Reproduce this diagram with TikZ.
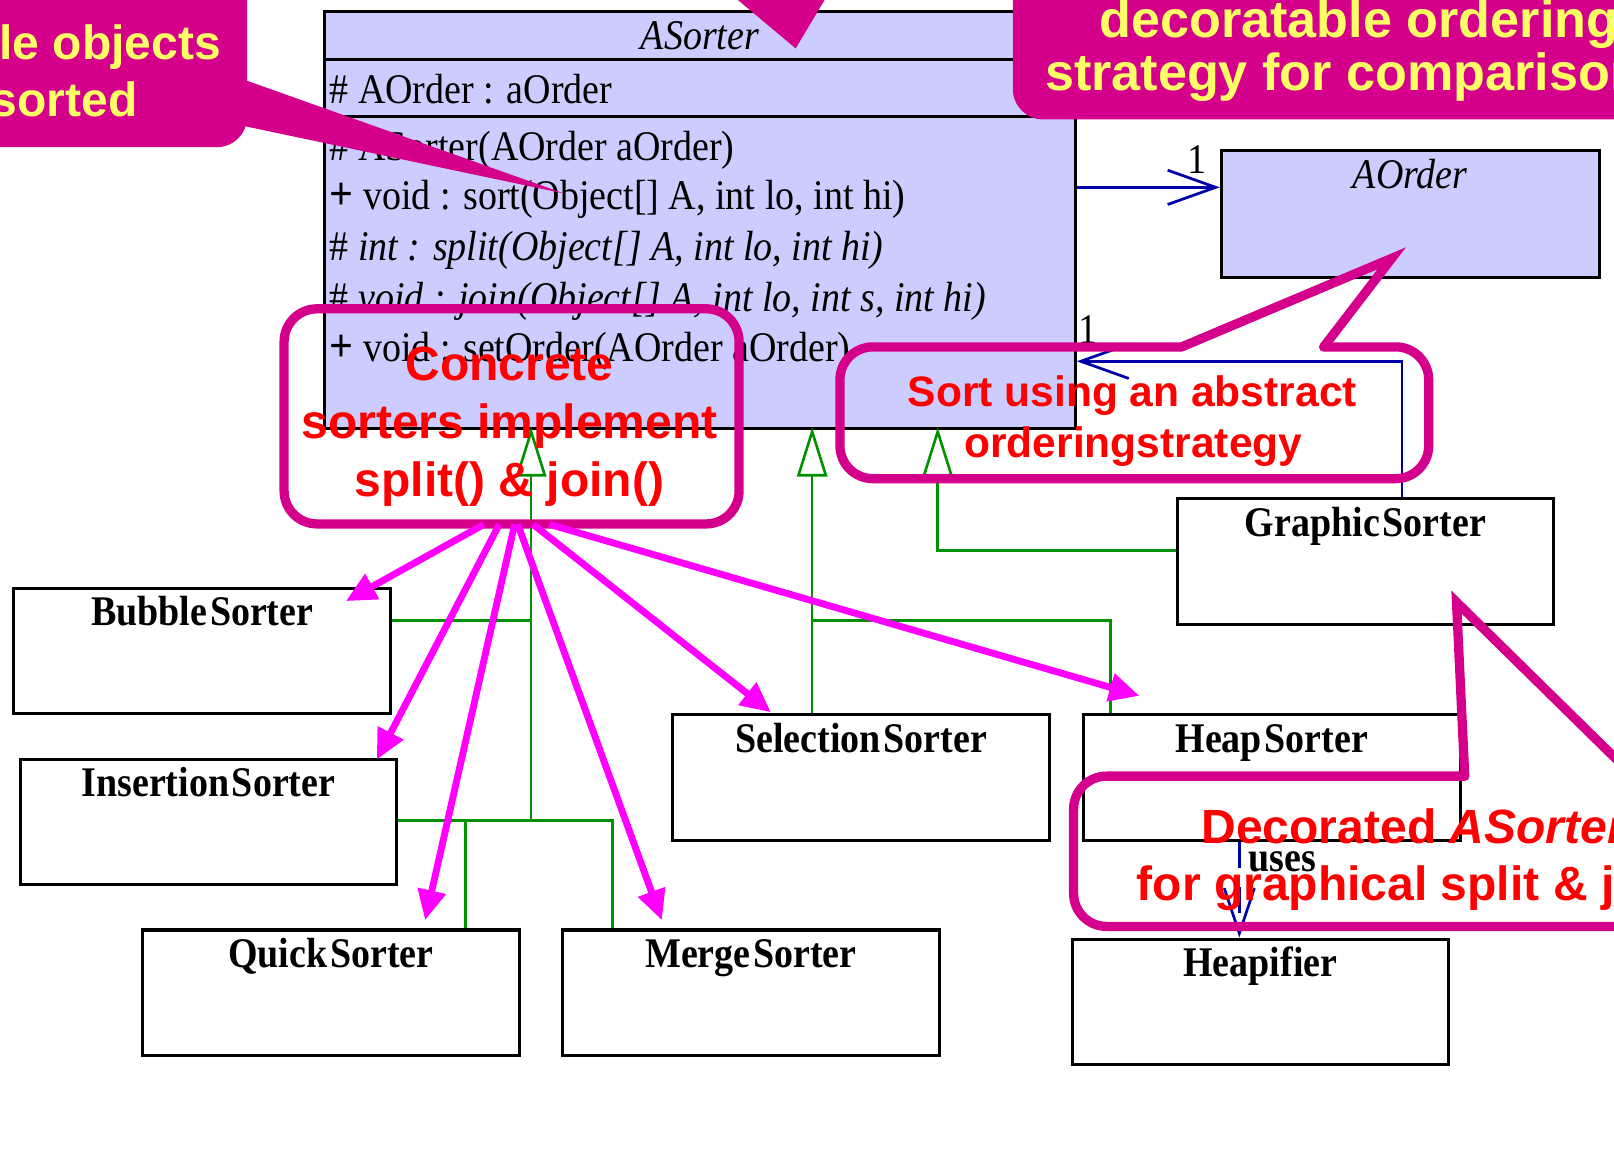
\documentclass[tikz,border=0pt]{standalone}
\usepackage{fontspec}
\setmainfont{Liberation Serif}
\newfontfamily\umlfont[FakeStretch=0.9]{Liberation Serif}
\newfontfamily\notefont{Liberation Sans}
\usetikzlibrary{arrows.meta}

\definecolor{lav}{HTML}{CCCCFF}
\definecolor{umlgreen}{HTML}{009000}
\definecolor{umlblue}{HTML}{0000A8}
\definecolor{notemag}{HTML}{D4008C}
\definecolor{arrowmag}{HTML}{FF00FF}
\definecolor{noteyellow}{HTML}{FFFF66}
\definecolor{notered}{HTML}{FF0000}

% one drawing unit = one pixel
\def\pxu{0.75pt}
\newcommand\umlsz{\fontsize{30.75pt}{36pt}\selectfont}
\newcommand\vis{{\fontsize{34pt}{36pt}\selectfont\bfseries +}}

\begin{document}
\begin{tikzpicture}[x=0.75pt, y=-0.75pt,
  cls/.style={draw, line width=2.25pt, fill=white, inner sep=0pt,
    minimum width=366*\pxu, minimum height=122*\pxu, anchor=north west},
  ctitle/.style={font=\umlfont\bfseries\umlsz, anchor=base, inner sep=0pt},
  member/.style={font=\umlfont\umlsz, anchor=base west, inner sep=0pt},
  gen/.style={draw=umlgreen, line width=1.9pt},
  genarrow/.style={gen, -{Triangle[open, length=36pt, width=22pt]}},
  assoc/.style={draw=umlblue, line width=2pt, -{Straight Barb[length=35pt, width=25pt]}},
  dep/.style={draw=umlblue, line width=2pt, dash pattern=on 19pt off 14pt,
    -{Straight Barb[length=33pt, width=22pt]}},
  outlinenote/.style={draw=notemag, line width=6.75pt, line cap=round},
  marrow/.style={draw=arrowmag, line width=5pt, -{Triangle[length=22pt, width=20pt]}},
  redtxt/.style={text=notered, font=\notefont\bfseries\fontsize{35pt}{42pt}\selectfont,
    inner sep=0pt, anchor=base},
  smallred/.style={redtxt, font=\notefont\bfseries\fontsize{31pt}{37pt}\selectfont},
  yeltxt/.style={text=noteyellow, font=\notefont\bfseries\fontsize{35pt}{42pt}\selectfont,
    inner sep=0pt},
  bigyel/.style={yeltxt, font=\notefont\bfseries\fontsize{38pt}{46pt}\selectfont}
]
\fill[white] (0,0) rectangle (1568,1134);
\clip (0,0) rectangle (1568,1134);

% ---------------- abstract sorter class ----------------
\node[draw, line width=2.25pt, fill=lav, inner sep=0pt, minimum width=729*\pxu,
  minimum height=405*\pxu, anchor=north west] (asorter) at (314,10) {};
\draw[line width=2.25pt] ([yshift=-48*\pxu]asorter.north west) -- ([yshift=-48*\pxu]asorter.north east);
\draw[line width=2.25pt] ([yshift=-103*\pxu]asorter.north west) -- ([yshift=-103*\pxu]asorter.north east);
\node[ctitle, font=\umlfont\itshape\umlsz] (asorterT) at ([yshift=-38*\pxu]asorter.north) {ASorter};
\node[member] (attr) at (320,101) {\# AOrder : aOrder};
\node[member] (ctor) at (320,156) {\# ASorter(AOrder aOrder)};
\node[member] (msort) at (320,204) {\vis\ void : sort(Object[] A, int lo, int hi)};
\node[member, font=\umlfont\itshape\umlsz] (msplit) at (320,253) {\textup{\#} int : split(Object[] A, int lo, int hi)};
\node[member, font=\umlfont\itshape\umlsz] (mjoin) at (320,303) {\textup{\#} void : join(Object[] A, int lo, int s, int hi)};
\node[member] (mset) at (320,351) {\vis\ void : setOrder(AOrder aOrder)};

% ---------------- ordering strategy ----------------
\node[cls, fill=lav, minimum width=367*\pxu, minimum height=123*\pxu] (aorder) at (1185,145) {};
\node[ctitle, font=\umlfont\itshape\umlsz] (aorderT) at ([yshift=-38*\pxu]aorder.north) {AOrder};

% ---------------- concrete classes ----------------
\node[cls] (bubble) at (12,570) {};
\node[cls] (insertion) at (18,736) {};
\node[cls] (quick) at (137,902) {};
\node[cls] (merge) at (545,902) {};
\node[cls] (selection) at (652,693) {};
\node[cls] (heap) at (1051,693) {};
\node[cls] (heapifier) at (1040,911) {};
\node[cls] (graphic) at (1142,483) {};
\node[ctitle] (bubbleT) at ([yshift=-38*\pxu]bubble.north) {Bubble\kern2pt Sorter};
\node[ctitle] (insertionT) at ([yshift=-38*\pxu]insertion.north) {Insertion\kern2pt Sorter};
\node[ctitle] (quickT) at ([yshift=-38*\pxu]quick.north) {Quick\kern2pt Sorter};
\node[ctitle] (mergeT) at ([yshift=-38*\pxu]merge.north) {Merge\kern2pt Sorter};
\node[ctitle] (selectionT) at ([yshift=-38*\pxu]selection.north) {Selection\kern2pt Sorter};
\node[ctitle] (heapT) at ([yshift=-38*\pxu]heap.north) {Heap\kern2pt Sorter};
\node[ctitle] (heapifierT) at ([yshift=-38*\pxu]heapifier.north) {Heapifier};
\node[ctitle] (graphicT) at ([yshift=-38*\pxu]graphic.north) {Graphic\kern2pt Sorter};

% ---------------- generalisation ----------------
\coordinate (t1) at (516,415);
\coordinate (t2) at (789,415);
\coordinate (t3) at (911,415);
\coordinate (jb) at (516,603);
\coordinate (ji) at (516,797);
\coordinate (jq) at (452,797);
\coordinate (jm) at (595,797);
\draw[genarrow] (ji) -- (t1);
\draw[gen] (bubble.east |- jb) -- (jb);
\draw[gen] (insertion.east |- ji) -- (jm) -- (jm |- merge.north);
\draw[gen] (jq) -- (jq |- quick.north);
\coordinate (js) at (789,603);
\coordinate (jh) at (1079,603);
\draw[genarrow] (t2 |- selection.north) -- (t2);
\draw[gen] (js) -- (jh) -- (jh |- heap.north);
\coordinate (jg) at (911,535);
\draw[genarrow] (graphic.west |- jg) -- (jg) -- (t3);

% ---------------- associations ----------------
\coordinate (a1) at (1100,182);
\draw[assoc] (asorter.east |- a1) -- (aorder.west |- a1);
\coordinate (a2) at (1362,351);
\draw[assoc] (graphic.north -| a2) -- (a2) -- (asorter.east |- a2);
\node[member, anchor=base] (m1) at (1163,169) {1};
\node[member, anchor=base] (m2) at (1057,334) {1};
\coordinate (u1) at (1204,860);
\draw[dep] (heap.south -| u1) -- (heapifier.north -| u1);
\node[ctitle] (usesL) at (1246,847) {uses};

% ---------------- filled notes ----------------
\node[fill=notemag, rounded corners=22pt, inner sep=0pt, minimum width=280*\pxu,
  minimum height=183*\pxu] (c1box) at (100,51.5) {};
\coordinate (c1tip) at (548,188);
\fill[notemag] ([shift={(-10,23.5)}]c1box.east) -- (c1tip) -- ([shift={(-10,69.5)}]c1box.east) -- cycle;
\node[yeltxt, anchor=base east] (c1a) at (215,58) {ble objects};
\node[yeltxt, anchor=base east] (c1b) at (134,113) {sorted};

\node[fill=notemag, rounded corners=22pt, inner sep=0pt, minimum width=716*\pxu,
  minimum height=156*\pxu] (c2box) at (1342,38) {};
\coordinate (c2tip) at (773,47);
\fill[notemag] (687,-25) -- (c2tip) -- (816,-25) -- cycle;
\node[bigyel, anchor=base west] (c2a) at (1068,36) {decoratable ordering};
\node[bigyel, anchor=base west] (c2b) at (1015,88) {strategy for comparison};

% ---------------- outlined notes ----------------
\node[outlinenote, rounded corners=24pt, inner sep=0pt, minimum width=442*\pxu,
  minimum height=209*\pxu] (c3box) at (497,404.5) {};

\draw[outlinenote, rounded corners=24pt] (1286,337) -- (1388,337) -- (1388,465) -- (816,465) -- (816,337) -- (1148,337);
\draw[outlinenote, line join=miter] (1148,337) -- (1352,251) -- (1286,337);

\draw[outlinenote, rounded corners=24pt] (1587,754) -- (1700,754) -- (1700,900) -- (1043,900) -- (1043,754) -- (1423,754);
\draw[outlinenote, line join=miter] (1423,754) -- (1415,585) -- (1587,754);

% ---------------- pointers from the note ----------------
\draw[marrow] ([shift={(-27,-4)}]c3box.south) -- ([shift={(-45,14)}]bubble.north east);
\draw[marrow] ([shift={(-12,-4)}]c3box.south) -- ([shift={(-21,2)}]insertion.north east);
\draw[marrow] ([shift={(3,-4)}]c3box.south) -- ([shift={(-93,-8)}]quick.north east);
\draw[marrow] ([shift={(6,-4)}]c3box.south) -- ([shift={(98,-8)}]merge.north west);
\draw[marrow] ([shift={(21,-4)}]c3box.south) -- ([shift={(97,-1)}]selection.north west);
\draw[marrow] ([shift={(37,-4)}]c3box.south) -- ([shift={(56,-17)}]heap.north west);

% ---------------- note texts ----------------
\node[redtxt] (c3a) at (495,370) {Concrete};
\node[redtxt] (c3b) at (495,426) {sorters implement};
\node[redtxt] (c3c) at (495,482) {split() \& join()};
\node[smallred] (c4a) at (1100,395) {Sort using an abstract};
\node[smallred] (c4b) at (1101,444) {orderingstrategy};
\node[redtxt, anchor=base west] (c5a) at (1167,819) {Decorated \textit{ASorter}};
\node[redtxt, anchor=base west] (c5b) at (1104,875) {for graphical split \& join()};
\end{tikzpicture}
\end{document}
